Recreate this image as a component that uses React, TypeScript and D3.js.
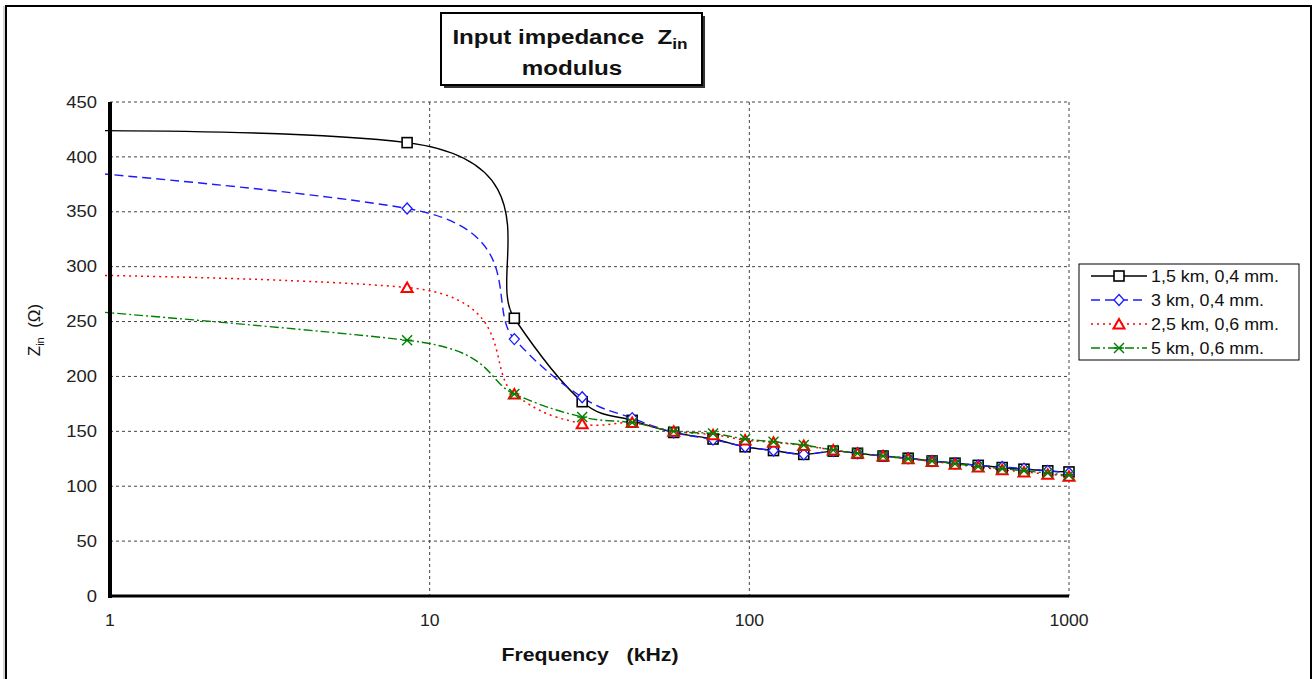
import React from "react";
import * as d3 from "d3";

// frequency points (kHz); the first one is the low-frequency (≈DC) sample, drawn off the left edge and clipped
const freqs = [0.001, 8.5, 18.4, 30, 43, 58, 77, 97, 119, 148, 183, 218, 262, 314, 373, 440, 520, 618, 723, 858, 1000];
const black15 = [410, 413, 253, 177, 160, 149, 143, 136, 132.5, 129, 132, 130, 127.5, 125.5, 123, 121, 119, 117, 115.5, 114, 113];
const blue3 = [450, 353, 234, 181, 162, 149, 142.5, 136, 132.5, 129, 132, 130, 127.5, 125.5, 123, 121, 119, 117.5, 116, 114, 112];
const red25 = [298, 281, 184, 157, 158, 150, 147, 142, 140, 137, 133, 130, 127.5, 125, 122.5, 120, 117.5, 115, 113, 111, 109];
const green5 = [326, 233, 184, 163, 158, 150, 148, 143, 140.5, 137.5, 133, 130, 127.5, 125, 123, 120.5, 118, 116, 114, 112, 110];
const seriesNames = ["1,5 km, 0,4 mm.", "3 km, 0,4 mm.", "2,5 km, 0,6 mm.", "5 km, 0,6 mm."];
const yTicks = [0, 50, 100, 150, 200, 250, 300, 350, 400, 450];
const xTicks = [1, 10, 100, 1000];

const FONT = "'Liberation Sans', Arial, sans-serif";

type Style = { color: string; dash: string | undefined; width: number; marker: string };
const styles: Style[] = [
  { color: "#000000", dash: undefined, width: 1.4, marker: "square" },
  { color: "#1a1aff", dash: "9,5", width: 1.4, marker: "diamond" },
  { color: "#ff0000", dash: "2,4", width: 1.5, marker: "triangle" },
  { color: "#008000", dash: "9,3,2,3", width: 1.4, marker: "x" },
];

// Excel-like smoothed line: cubic Bezier segments with tangent control points
function smoothPath(pts: [number, number][]): string {
  const p = d3.path();
  const n = pts.length;
  const dist = (a: [number, number], b: [number, number]) => Math.hypot(b[0] - a[0], b[1] - a[1]);
  p.moveTo(pts[0][0], pts[0][1]);
  for (let i = 0; i < n - 1; i++) {
    const p0 = pts[Math.max(0, i - 1)];
    const p1 = pts[i];
    const p2 = pts[i + 1];
    const p3 = pts[Math.min(n - 1, i + 2)];
    const d12 = dist(p1, p2);
    const d02 = dist(p0, p2);
    const d13 = dist(p1, p3);
    const lim = 0.75;
    const f1 = d02 > 0 ? Math.min(1 / 6, (lim * d12) / d02) : 0;
    const f2 = d13 > 0 ? Math.min(1 / 6, (lim * d12) / d13) : 0;
    const c1x = p1[0] + (p2[0] - p0[0]) * f1;
    const c1y = p1[1] + (p2[1] - p0[1]) * f1;
    const c2x = p2[0] - (p3[0] - p1[0]) * f2;
    const c2y = p2[1] - (p3[1] - p1[1]) * f2;
    p.bezierCurveTo(c1x, c1y, c2x, c2y, p2[0], p2[1]);
  }
  return p.toString();
}

function Marker({ type, x, y, color }: { type: string; x: number; y: number; color: string }) {
  if (type === "square")
    return <rect x={x - 5} y={y - 5} width={10} height={10} fill="#fff" stroke={color} strokeWidth={1.6} />;
  if (type === "diamond")
    return (
      <path d={`M${x},${y - 5.5}L${x + 5},${y}L${x},${y + 5.5}L${x - 5},${y}Z`} fill="#fff" stroke={color} strokeWidth={1.3} />
    );
  if (type === "triangle")
    return (
      <path d={`M${x},${y - 5}L${x + 5.5},${y + 4.5}L${x - 5.5},${y + 4.5}Z`} fill="#fff" stroke={color} strokeWidth={2} />
    );
  return (
    <g stroke={color} strokeWidth={1.4}>
      <line x1={x - 5} y1={y - 5} x2={x + 5} y2={y + 5} />
      <line x1={x - 5} y1={y + 5} x2={x + 5} y2={y - 5} />
      <line x1={x - 5} y1={y} x2={x + 5} y2={y} />
    </g>
  );
}

export default function App() {
  const W = 1313;
  const H = 679;
  const x = d3.scaleLog().domain([1, 1000]).range([110, 1069]);
  const y = d3.scaleLinear().domain([0, 450]).range([596, 102]);
  const data = [black15, blue3, red25, green5];

  const [x0, x1] = x.range();
  const [y0, y1] = y.range();

  const legX = 1079;
  const legY = 264;
  const legRowH = 24;
  const SX = 1.15; // horizontal text stretch seen in the reference

  return (
    <div style={{ position: "absolute", left: 0, top: 0, width: W, height: H, background: "#fff" }}>
      <svg width={W} height={H} style={{ display: "block" }} fontFamily={FONT}>
        <defs>
          <clipPath id="plotclip">
            <rect x={x0 - 5} y={y1 - 6} width={x1 - x0 + 12} height={y0 - y1 + 8} />
          </clipPath>
        </defs>
        <rect x={0} y={0} width={W} height={H} fill="#fff" />
        {/* outer frame */}
        <rect x={6} y={6} width={1305} height={H + 10} fill="none" stroke="#000" strokeWidth={2} />
        <line x1={4} y1={6} x2={4} y2={H} stroke="#aaa" strokeWidth={1} />

        {/* grid */}
        {yTicks.filter((t) => t > 0).map((t) => (
          <line key={"gy" + t} x1={x0} x2={x1} y1={y(t)} y2={y(t)} stroke="#444" strokeWidth={1} strokeDasharray="3,3" />
        ))}
        {xTicks.filter((t) => t > 1).map((t) => (
          <line key={"gx" + t} x1={x(t)} x2={x(t)} y1={y1} y2={y0} stroke="#444" strokeWidth={1} strokeDasharray="3,3" />
        ))}

        {/* series lines */}
        <g clipPath="url(#plotclip)">
          {data.map((vals, i) => {
            const pts = freqs.map((f, j) => [x(f), y(vals[j])] as [number, number]);
            const s = styles[i];
            return (
              <path key={"l" + i} d={smoothPath(pts)} fill="none" stroke={s.color} strokeWidth={s.width} strokeDasharray={s.dash} />
            );
          })}
        </g>
        {/* markers */}
        {data.map((vals, i) => (
          <g key={"m" + i}>
            {freqs.map((f, j) =>
              f < 1 ? null : <Marker key={j} type={styles[i].marker} x={x(f)} y={y(vals[j])} color={styles[i].color} />
            )}
          </g>
        ))}

        {/* axes */}
        <line x1={x0} x2={x0} y1={y1} y2={y0 + 2} stroke="#000" strokeWidth={4} />
        <line x1={x0 - 2} x2={x1} y1={y0} y2={y0} stroke="#000" strokeWidth={3} />

        {/* y tick labels */}
        {yTicks.map((t) => (
          <text key={"yt" + t} transform={`translate(97,${y(t)}) scale(${SX},1)`} dy="0.35em" textAnchor="end" fontSize={16} fill="#222">
            {t}
          </text>
        ))}
        {/* x tick labels */}
        {xTicks.map((t) => (
          <text key={"xt" + t} transform={`translate(${x(t)},626) scale(1.1,1)`} textAnchor="middle" fontSize={16} fill="#222">
            {t}
          </text>
        ))}

        {/* axis titles */}
        <text transform={`translate(590,661) scale(1.18,1)`} textAnchor="middle" fontSize={18} fontWeight="bold" fill="#111">
          Frequency{"\u00a0\u00a0\u00a0"}(kHz)
        </text>
        <text transform="translate(40,330) rotate(-90)" textAnchor="middle" fontSize={17} fill="#111">
          Z<tspan fontSize={11} dy={4}>in</tspan>
          <tspan dy={-4}>{"\u00a0\u00a0"}(Ω)</tspan>
        </text>

        {/* title box */}
        <rect x={444} y={16} width={261} height={72} fill="#333" />
        <rect x={441} y={13} width={261} height={72} fill="#fff" stroke="#000" strokeWidth={2} />
        <text transform={`translate(570,44) scale(${SX},1)`} textAnchor="middle" fontSize={21} fontWeight="bold" fill="#111">
          Input impedance{"\u00a0\u00a0"}Z<tspan fontSize={15} dy={5}>in</tspan>
        </text>
        <text transform={`translate(572,75) scale(${SX},1)`} textAnchor="middle" fontSize={21} fontWeight="bold" fill="#111">
          modulus
        </text>

        {/* legend */}
        <rect x={legX} y={legY} width={220} height={96} fill="#fff" stroke="#000" strokeWidth={1} />
        {seriesNames.map((name, i) => {
          const cy = legY + 12 + i * legRowH;
          const s = styles[i];
          return (
            <g key={"lg" + i}>
              <line x1={1091} x2={1147} y1={cy} y2={cy} stroke={s.color} strokeWidth={s.width} strokeDasharray={s.dash} />
              <Marker type={s.marker} x={1119} y={cy} color={s.color} />
              <text transform={`translate(1151,${cy}) scale(1.05,1)`} dy="0.35em" fontSize={17} fill="#111">
                {name}
              </text>
            </g>
          );
        })}
      </svg>
    </div>
  );
}
